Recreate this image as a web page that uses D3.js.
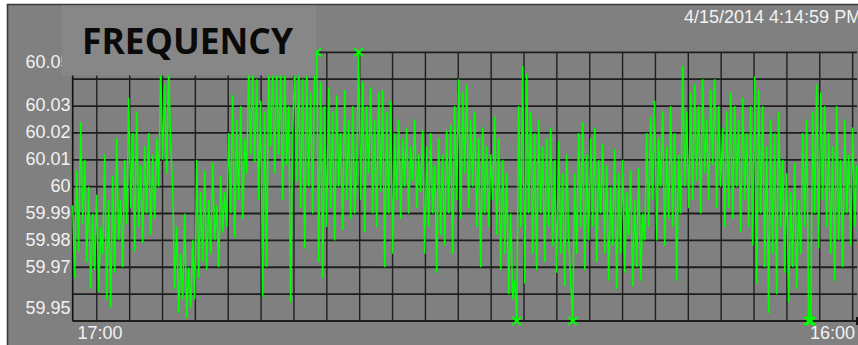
<!DOCTYPE html>
<html>
<head>
<meta charset="utf-8">
<script src="https://cdn.jsdelivr.net/npm/d3@7"></script>
<style>
  html, body { margin: 0; padding: 0; background: #ffffff; }
  svg { display: block; }
</style>
</head>
<body>
<svg id="chart" width="858" height="345"></svg>
<script>
// Grid frequency samples (Hz), oldest to newest, left to right
const frequency = [
  59.993, 59.966, 60.006, 59.976, 60.024, 59.986, 60.010, 59.972, 60.000, 59.962,
  59.990, 59.969, 59.997, 59.961, 59.985, 59.975, 60.012, 59.958, 59.995, 59.955,
  60.004, 59.968, 60.018, 59.980, 59.995, 59.970, 60.010, 59.986, 60.033, 59.992,
  60.020, 59.976, 60.028, 59.985, 60.008, 59.979, 60.015, 59.990, 60.020, 59.982,
  60.012, 59.988, 60.018, 60.000, 60.045, 60.010, 60.038, 60.005, 60.044, 60.015,
  60.000, 59.962, 59.985, 59.953, 59.975, 59.958, 59.990, 59.951, 59.970, 59.955,
  59.980, 59.958, 60.010, 59.966, 59.998, 59.972, 60.006, 59.969, 59.995, 59.975,
  60.009, 59.980, 59.993, 59.970, 60.004, 59.983, 59.998, 59.985, 60.020, 59.990,
  60.034, 59.981, 60.025, 59.995, 60.030, 59.988, 60.018, 60.005, 60.045, 60.012,
  60.045, 60.009, 60.040, 59.995, 60.032, 59.959, 60.028, 59.970, 60.045, 60.015,
  60.045, 60.005, 60.045, 60.012, 60.043, 59.995, 60.045, 60.008, 60.030, 59.957,
  60.020, 60.045, 60.002, 60.045, 59.992, 60.040, 59.977, 60.045, 60.000, 60.035,
  59.990, 60.045, 60.060, 59.972, 60.039, 59.966, 60.030, 59.985, 60.037, 59.992,
  60.028, 59.980, 60.034, 60.000, 60.020, 59.984, 60.036, 59.995, 60.025, 59.988,
  60.030, 59.990, 60.010, 60.060, 59.995, 60.039, 59.983, 60.030, 60.005, 60.037,
  59.990, 60.025, 59.985, 60.035, 59.998, 60.036, 59.970, 60.028, 59.990, 60.032,
  59.975, 60.020, 59.995, 60.025, 59.988, 60.018, 60.000, 60.022, 59.990, 60.015,
  60.002, 60.025, 59.992, 60.012, 59.998, 60.021, 59.975, 60.015, 59.985, 60.020,
  59.990, 60.008, 59.968, 60.018, 59.982, 60.012, 59.978, 60.021, 59.990, 60.023,
  59.975, 60.030, 59.995, 60.040, 59.988, 60.035, 60.005, 60.038, 59.992, 60.025,
  60.000, 60.028, 59.985, 60.018, 59.970, 60.022, 59.990, 60.015, 59.985, 60.012,
  59.995, 60.026, 59.982, 60.018, 59.969, 60.010, 59.975, 60.005, 59.960, 59.990,
  59.958, 59.965, 59.940, 60.030, 59.985, 60.045, 59.964, 60.042, 59.990, 60.028,
  59.975, 60.020, 59.969, 60.025, 59.990, 60.015, 59.972, 60.018, 59.985, 60.022,
  59.978, 60.010, 59.968, 60.017, 59.975, 60.005, 59.963, 60.012, 59.980, 59.965,
  59.940, 60.005, 59.975, 60.020, 59.985, 60.024, 59.969, 60.012, 59.980, 60.018,
  59.985, 60.022, 59.972, 60.010, 59.990, 60.016, 59.975, 60.008, 59.965, 60.000,
  59.978, 60.014, 59.962, 60.005, 59.975, 60.010, 59.968, 59.998, 59.982, 60.006,
  59.963, 59.995, 59.970, 60.007, 59.965, 59.990, 59.980, 60.020, 59.985, 60.026,
  59.995, 60.032, 59.980, 60.018, 60.000, 60.028, 59.978, 60.015, 59.988, 60.030,
  59.985, 60.020, 59.965, 60.012, 59.990, 60.045, 60.000, 60.028, 59.992, 60.035,
  59.995, 60.038, 60.002, 60.030, 59.990, 60.040, 60.005, 60.025, 59.995, 60.036,
  60.008, 60.040, 59.992, 60.030, 60.000, 60.022, 59.985, 60.028, 59.992, 60.035,
  59.988, 60.030, 60.000, 60.025, 59.983, 60.033, 59.995, 60.020, 59.985, 60.030,
  59.978, 60.041, 59.964, 60.036, 59.990, 60.030, 59.970, 60.015, 59.953, 60.025,
  59.975, 60.020, 59.960, 60.028, 59.985, 60.010, 59.968, 60.005, 59.957, 59.998,
  59.970, 60.009, 59.962, 59.995, 59.975, 60.020, 59.985, 60.025, 59.945, 59.940,
  60.028, 59.990, 60.038, 59.977, 60.035, 59.995, 60.030, 59.985, 60.020, 59.975,
  60.015, 59.965, 60.030, 59.980, 60.010, 59.970, 60.025, 59.990, 60.012, 59.978,
  60.022, 59.985, 60.008
];

// Value axis: range and labelled levels
const yRange = [59.95, 60.05];
const yTickValues = [60.05, 60.03, 60.02, 60.01, 60, 59.99, 59.98, 59.97, 59.95];

// Time axis: visible window, minute grid, edge labels
const timeWindow = [new Date(2014, 3, 15, 15, 51, 16), new Date(2014, 3, 15, 16, 15, 8)];
const timeLabels = ["17:00", "16:00"];

const titleText = "FREQUENCY";
const stampText = "4/15/2014 4:14:59 PM";

// ---- layout ----
const plot = { left: 72.7, right: 857, top: 52.3, bottom: 321 };
const labelFont = "'Liberation Sans', Arial, sans-serif";

const svg = d3.select("#chart");

// panel
svg.append("rect").attr("x", 7).attr("y", 4).attr("width", 860).attr("height", 350)
  .attr("fill", "#808080");
svg.append("path").attr("d", "M7.5,350 V4.5 H860")
  .attr("fill", "none").attr("stroke", "#3a3a3a").attr("stroke-width", 1.6);

const y = d3.scaleLinear().domain(yRange).range([plot.bottom, plot.top]).clamp(true);
const xTime = d3.scaleTime().domain(timeWindow).range([plot.left, plot.right]);
const xIdx = d3.scaleLinear().domain([0, frequency.length - 1])
  .range([plot.left, plot.left + (frequency.length - 1) * 2]);

// horizontal grid, one line per 0.01 Hz
const grid = svg.append("g");
grid.selectAll("line.h").data(y.ticks(10)).join("line")
  .attr("class", "h")
  .attr("x1", plot.left).attr("x2", plot.right)
  .attr("y1", d => y(d)).attr("y2", d => y(d))
  .attr("stroke", "#1e1e1e").attr("stroke-width", 1.8);

// vertical grid, one line per minute
const minuteTicks = d3.timeMinute.range(d3.timeMinute.ceil(timeWindow[0]), timeWindow[1]);
grid.selectAll("line.v").data(minuteTicks).join("line")
  .attr("class", "v")
  .attr("x1", d => xTime(d)).attr("x2", d => xTime(d))
  .attr("y1", plot.top).attr("y2", plot.bottom)
  .attr("stroke", "#1e1e1e").attr("stroke-width", 1.4);

// plot frame (left edge)
grid.append("line")
  .attr("x1", plot.left).attr("x2", plot.left)
  .attr("y1", plot.top).attr("y2", plot.bottom)
  .attr("stroke", "#111").attr("stroke-width", 1.6);
svg.append("rect").attr("x", 856).attr("y", 317).attr("width", 3).attr("height", 8).attr("fill", "#111");

// value labels, kept inside the value range
const yLabels = svg.append("g")
  .attr("font-family", labelFont).attr("font-size", 18).attr("fill", "#f2f2f2")
  .attr("text-anchor", "end");
yLabels.selectAll("text").data(yTickValues).join("text")
  .attr("x", 70.5)
  .attr("y", d => Math.max(62, Math.min(308, y(d) - 1)))
  .attr("dy", "0.35em")
  .text(d => String(d));

// frequency trace
const line = d3.line()
  .x((d, i) => xIdx(i))
  .y(d => y(d));
svg.append("path").datum(frequency)
  .attr("d", line)
  .attr("fill", "none")
  .attr("stroke", "#00ff00")
  .attr("stroke-width", 1.5)
  .attr("stroke-linejoin", "miter");

// out-of-range samples marked with a cross at the boundary
const outOfRange = frequency.map((v, i) => ({ v, i }))
  .filter(d => d.v < yRange[0] || d.v > yRange[1]);
svg.append("g").selectAll("path").data(outOfRange).join("path")
  .attr("transform", d => `translate(${xIdx(d.i)},${y(d.v)})`)
  .attr("d", "M-4.5,-4 L4.5,4 M-4.5,4 L4.5,-4")
  .attr("stroke", "#00ff00").attr("stroke-width", 2).attr("fill", "none");

// title block
svg.append("rect").attr("x", 62).attr("y", 5.5).attr("width", 254).attr("height", 70)
  .attr("fill", "#878787");
svg.append("text")
  .attr("x", 82).attr("y", 53.5)
  .attr("font-family", "'Open Sans', 'Noto Sans', sans-serif")
  .attr("font-weight", 700).attr("font-size", 35)
  .attr("fill", "#0a0a0a")
  .attr("textLength", 211).attr("lengthAdjust", "spacingAndGlyphs")
  .text(titleText);

// timestamp
svg.append("text")
  .attr("x", 684).attr("y", 22.5)
  .attr("font-family", labelFont).attr("font-size", 18).attr("fill", "#f2f2f2")
  .text(stampText);

// time labels at the first and last minute lines, kept inside the plot
const edgeTicks = [minuteTicks[0], minuteTicks[minuteTicks.length - 1]];
const tl = svg.append("g")
  .attr("font-family", labelFont).attr("font-size", 18).attr("fill", "#f2f2f2");
tl.selectAll("text").data(timeLabels).join("text")
  .attr("y", 339)
  .text(d => d)
  .each(function (d, i) {
    const w = this.getComputedTextLength();
    let x0 = xTime(edgeTicks[i]) - w / 2;
    x0 = Math.max(77.5, Math.min(855 - w, x0));
    d3.select(this).attr("x", x0);
  });
</script>
</body>
</html>
